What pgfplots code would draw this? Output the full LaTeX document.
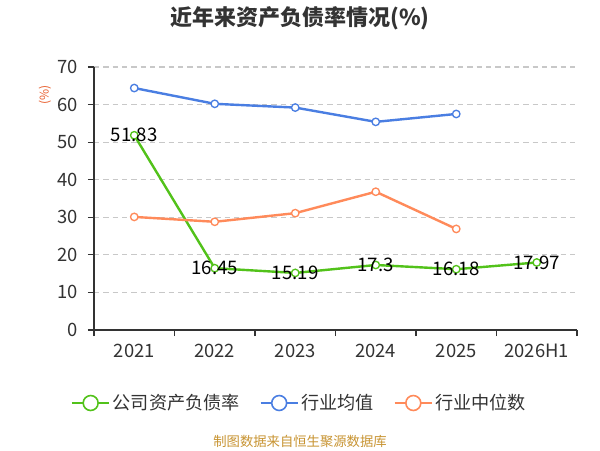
\documentclass[border=0pt]{standalone}
\usepackage{pgfplots}
\pgfplotsset{compat=1.18}
\usepackage{fontspec}
\setmainfont{Noto Sans CJK SC}
\definecolor{cgreen}{RGB}{82,194,26}
\definecolor{cblue}{RGB}{74,126,226}
\definecolor{corange}{RGB}{255,138,90}
\definecolor{cgrid}{RGB}{200,200,200}
\definecolor{ctext}{RGB}{51,51,51}
\definecolor{csrc}{RGB}{200,148,50}
\definecolor{cunit}{RGB}{232,90,40}
\begin{document}
\begin{tikzpicture}
\path[use as bounding box, fill=white] (0,0) rectangle (450pt,337.5pt);
\begin{axis}[
  at={(70.5pt,90pt)}, anchor=south west,
  scale only axis, width=362.25pt, height=197.25pt,
  xmin=-0.5, xmax=5.5, ymin=0, ymax=70,
  axis lines=left, axis line style={-, draw=ctext, line width=0.8pt},
  xtick={0,1,2,3,4,5},
  xticklabels={2021,2022,2023,2024,2025,2026H1},
  major x tick style={draw=none},
  minor xtick={-0.5,0.5,1.5,2.5,3.5,4.5,5.5},
  minor tick length=4.5pt,
  minor x tick style={draw=ctext, line width=0.8pt},
  ytick={0,10,...,70},
  major tick length=4.5pt,
  tick align=outside,
  y tick style={draw=ctext, line width=0.8pt},
  ymajorgrids,
  grid style={draw=cgrid, line width=0.8pt, dash pattern=on 4pt off 3pt},
  tick label style={font=\fontsize{13.8}{16}\selectfont, text=ctext},
  xticklabel style={yshift=-2.5pt},
  yticklabel style={xshift=-4pt},
  /pgf/number format/assume math mode=true,
  clip=false,
  legend columns=3,
  legend style={at={(0.4265,-0.2776)}, anchor=center, draw=none, fill=none,
    font=\fontsize{13.6}{16}\selectfont, text=ctext,
    /tikz/every even column/.append style={column sep=13pt}},
  legend image code/.code={
    \draw[#1, line width=1.2pt] (0pt,0pt) -- (28pt,0pt);
    \draw[#1, line width=1.2pt, fill=white] (14pt,0pt) circle (5.6pt);
  },
]
\addplot[cgreen, line width=1.8pt, mark=*, mark size=2.8pt,
  mark options={fill=white, line width=1pt},
  nodes near coords, point meta=explicit symbolic,
  every node near coord/.append style={anchor=center, text=black,
    font=\fontsize{14}{16}\selectfont}]
  coordinates {(0,51.83)[51.83] (1,16.45)[16.45] (2,15.19)[15.19] (3,17.3)[17.3] (4,16.18)[16.18] (5,17.97)[17.97]};
\addlegendentry{公司资产负债率}
\addplot[cblue, line width=1.8pt, mark=*, mark size=2.8pt,
  mark options={fill=white, line width=1pt}]
  coordinates {(0,64.4) (1,60.2) (2,59.2) (3,55.4) (4,57.5)};
\addlegendentry{行业均值}
\addplot[corange, line width=1.8pt, mark=*, mark size=2.8pt,
  mark options={fill=white, line width=1pt}]
  coordinates {(0,30.1) (1,28.8) (2,31.1) (3,36.8) (4,26.9)};
\addlegendentry{行业中位数}
\end{axis}
\node[font=\fontsize{16.5}{19}\selectfont\bfseries, text=ctext] at (225pt,324pt) {近年来资产负债率情况(\%)};
\node[rotate=90, font=\fontsize{9}{11}\selectfont, text=cunit] at (33.75pt,266.25pt) {(\%)};
\node[font=\fontsize{10}{12}\selectfont, text=csrc] at (225pt,6.75pt) {制图数据来自恒生聚源数据库};
\end{tikzpicture}
\end{document}
